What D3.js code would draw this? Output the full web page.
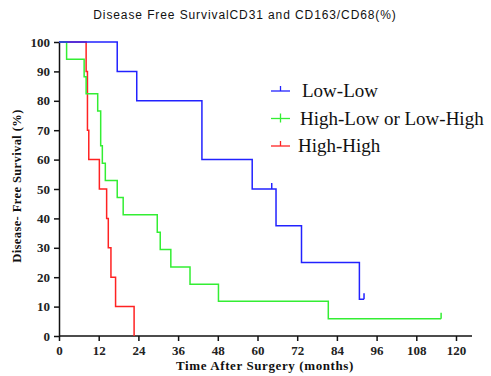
<!DOCTYPE html>
<html>
<head>
<meta charset="utf-8">
<script src="https://cdn.jsdelivr.net/npm/d3@7"></script>
<style>
  body { margin: 0; background: #fff; }
</style>
</head>
<body>
<div id="chart"></div>
<script>
// Kaplan-Meier steps (months, % surviving)
const lowLowTimes = [0, 17.6, 23.5, 43.2, 58.4, 65.6, 73.3, 90.8, 92.2];
const lowLowSurv = [100, 90, 80, 60, 50, 37.5, 25, 12.5, 12.5];
const lowLowCensor = [64.3, 92.2];

const mixedTimes = [0, 2.3, 7.6, 8.2, 11.7, 12.6, 13.1, 14.0, 17.6, 19.4, 29.7, 30.6, 33.8, 39.6, 48.2, 81.4, 115.5];
const mixedSurv = [100, 94.1, 88.2, 82.4, 76.5, 64.7, 58.8, 52.9, 47.1, 41.2, 35.3, 29.4, 23.5, 17.6, 11.8, 5.9, 5.9];
const mixedCensor = [115.5];

const highHighTimes = [0, 8.2, 8.6, 9.0, 12.2, 14.4, 14.9, 15.7, 17.1, 22.7];
const highHighSurv = [100, 90, 70, 60, 50, 40, 30, 20, 10, 0];
const highHighCensor = [];

const groupNames = ['Low-Low', 'High-Low or Low-High', 'High-High'];
const groupColors = ['#2222ff', '#33ee33', '#ff2222'];
const xTicks = [0, 12, 24, 36, 48, 60, 72, 84, 96, 108, 120];
const yTicks = [0, 10, 20, 30, 40, 50, 60, 70, 80, 90, 100];

const width = 491;
const height = 376;
const serif = '"Liberation Serif", "Times New Roman", serif';

const groups = [
  { name: groupNames[0], color: groupColors[0], times: lowLowTimes, surv: lowLowSurv, censor: lowLowCensor, tick: 'up' },
  { name: groupNames[1], color: groupColors[1], times: mixedTimes, surv: mixedSurv, censor: mixedCensor, tick: 'cross' },
  { name: groupNames[2], color: groupColors[2], times: highHighTimes, surv: highHighSurv, censor: highHighCensor, tick: 'up' },
];

const svg = d3.select('#chart')
  .append('svg')
  .attr('width', width)
  .attr('height', height);

const x = d3.scaleLinear().domain([0, 120]).range([59, 456]);
const y = d3.scaleLinear().domain([0, 100]).range([336, 42]);

// title
svg.append('text')
  .attr('x', 245)
  .attr('y', 19)
  .attr('text-anchor', 'middle')
  .style('font-family', '"Liberation Sans", Arial, sans-serif')
  .style('font-size', '12px')
  .style('letter-spacing', '0.9px')
  .attr('fill', '#111')
  .text('Disease Free SurvivalCD31 and CD163/CD68(%)');

// axes
const xAxis = svg.append('g')
  .attr('transform', `translate(0,${y(0)})`)
  .call(d3.axisBottom(x).tickValues(xTicks).tickSize(5).tickSizeOuter(0));
xAxis.select('.domain').attr('d', `M${x(0)},0H472`);

const yAxis = svg.append('g')
  .attr('transform', `translate(${x(0)},0)`)
  .call(d3.axisLeft(y).tickValues(yTicks).tickSize(5).tickSizeOuter(0));

[xAxis, yAxis].forEach(ax => {
  ax.select('.domain').attr('stroke', '#111').attr('stroke-width', 1.5);
  ax.selectAll('.tick line').attr('stroke', '#111').attr('stroke-width', 1.5);
  ax.selectAll('.tick text')
    .attr('fill', '#222')
    .style('font-family', serif)
    .style('font-weight', 'bold')
    .style('font-size', '13px');
});
xAxis.selectAll('.tick text').attr('dy', '0.85em');
yAxis.selectAll('.tick text').attr('dx', '-1px');

// axis titles
svg.append('text')
  .attr('x', 265)
  .attr('y', 370)
  .attr('text-anchor', 'middle')
  .style('font-family', serif)
  .style('font-weight', 'bold')
  .style('font-size', '13px')
  .style('letter-spacing', '0.6px')
  .attr('fill', '#111')
  .text('Time After Surgery (months)');

svg.append('text')
  .attr('transform', 'translate(21,186) rotate(-90)')
  .attr('text-anchor', 'middle')
  .style('font-family', serif)
  .style('font-weight', 'bold')
  .style('font-size', '12.5px')
  .style('letter-spacing', '0.4px')
  .attr('fill', '#111')
  .text('Disease- Free Survival (%)');

// survival curves
const line = d3.line()
  .x(d => x(d[0]))
  .y(d => y(d[1]))
  .curve(d3.curveStepAfter);

// value of a step curve at time t
function survAt(g, t) {
  let s = g.surv[0];
  g.times.forEach((tt, i) => { if (tt <= t) s = g.surv[i]; });
  return s;
}

groups.slice().reverse().forEach(g => {
  const pts = g.times.map((t, i) => [t, g.surv[i]]);
  svg.append('path')
    .datum(pts)
    .attr('d', line)
    .attr('fill', 'none')
    .attr('stroke', g.color)
    .attr('stroke-width', 1.5);

  svg.selectAll(null)
    .data(g.censor)
    .enter()
    .append('line')
    .attr('x1', d => x(d))
    .attr('x2', d => x(d))
    .attr('y1', d => y(survAt(g, d)))
    .attr('y2', d => y(survAt(g, d)) - 6)
    .attr('stroke', g.color)
    .attr('stroke-width', 1.5);
});

// legend
const legend = svg.append('g');
groups.forEach((g, i) => {
  const ly = 91 + i * 27.5;
  legend.append('line')
    .attr('x1', 271).attr('x2', 290)
    .attr('y1', ly).attr('y2', ly)
    .attr('stroke', g.color).attr('stroke-width', 1.3);
  legend.append('line')
    .attr('x1', 280.5).attr('x2', 280.5)
    .attr('y1', ly - 5).attr('y2', g.tick === 'cross' ? ly + 4 : ly)
    .attr('stroke', g.color).attr('stroke-width', 1.3);
  legend.append('text')
    .attr('x', i === 0 ? 302 : (i === 1 ? 300 : 298))
    .attr('y', ly + 6)
    .style('font-family', serif)
    .style('font-size', '19px')
    .attr('fill', '#111')
    .text(g.name);
});
</script>
</body>
</html>
